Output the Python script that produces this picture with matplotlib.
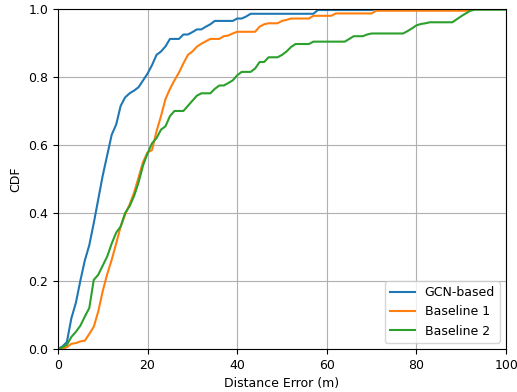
import numpy as np
from matplotlib import pyplot as plt

# distance error samples (m), one per metre
dist = np.arange(0, 101)

gcn = [0, 0.007, 0.02, 0.09, 0.135, 0.2, 0.26, 0.305, 0.37, 0.44,
       0.51, 0.57, 0.63, 0.66, 0.715, 0.74, 0.752, 0.76, 0.77, 0.79,
       0.81, 0.835, 0.865, 0.875, 0.89, 0.912, 0.912, 0.912, 0.925, 0.925,
       0.932, 0.94, 0.94, 0.948, 0.955, 0.965, 0.965, 0.965, 0.965, 0.965,
       0.972, 0.972, 0.978] + [0.986] * 15 + [0.997] * 13 + [1.0] * 30

base1 = [0, 0, 0.005, 0.015, 0.017, 0.022, 0.024, 0.044, 0.065, 0.11,
         0.17, 0.22, 0.262, 0.31, 0.36, 0.395, 0.425, 0.46, 0.505, 0.55,
         0.578, 0.585, 0.64, 0.685, 0.735, 0.765, 0.79, 0.813, 0.84, 0.865,
         0.875, 0.889, 0.898, 0.905, 0.912, 0.912, 0.912, 0.92, 0.922, 0.928,
         0.933, 0.933, 0.933, 0.933, 0.933, 0.948, 0.955, 0.958, 0.958, 0.958,
         0.965, 0.968, 0.972, 0.972, 0.972, 0.972, 0.972, 0.98, 0.98, 0.98,
         0.98, 0.98] + [0.987] * 9 + [0.995] * 22 + [1.0] * 8

base2 = [0, 0.005, 0.012, 0.035, 0.05, 0.068, 0.095, 0.12, 0.203, 0.218,
         0.245, 0.272, 0.31, 0.342, 0.36, 0.4, 0.42, 0.45, 0.49, 0.54,
         0.575, 0.605, 0.62, 0.645, 0.655, 0.685, 0.7, 0.7, 0.7, 0.715,
         0.73, 0.745, 0.752, 0.752, 0.752, 0.765, 0.775, 0.775, 0.782, 0.79,
         0.805, 0.815, 0.815, 0.815, 0.825, 0.844, 0.844, 0.858, 0.858, 0.858,
         0.865, 0.875, 0.888, 0.897, 0.897, 0.897, 0.897, 0.904, 0.904, 0.904,
         0.904, 0.904, 0.904, 0.904, 0.904, 0.912, 0.92, 0.92, 0.92, 0.925,
         0.928, 0.928, 0.928, 0.928, 0.928, 0.928, 0.928, 0.928, 0.935, 0.943,
         0.952, 0.956, 0.958, 0.961, 0.961, 0.961, 0.961, 0.961, 0.961, 0.97,
         0.979, 0.987, 0.995] + [0.998] * 8

plt.rcParams['font.size'] = 9

fig = plt.figure(figsize=(5.17, 3.92), dpi=100)
ax = fig.add_subplot(111)
fig.subplots_adjust(left=0.112, right=0.979, top=0.977, bottom=0.110)

ax.plot(dist, gcn, label="GCN-based")
ax.plot(dist, base1, label="Baseline 1")
ax.plot(dist, base2, label="Baseline 2")

ax.set_xlim(0, 100)
ax.set_ylim(0, 1.0)
ax.set_xlabel("Distance Error (m)")
ax.set_ylabel("CDF")
ax.grid(True)
ax.legend(loc="lower right")

plt.savefig("out.png", dpi=100)
